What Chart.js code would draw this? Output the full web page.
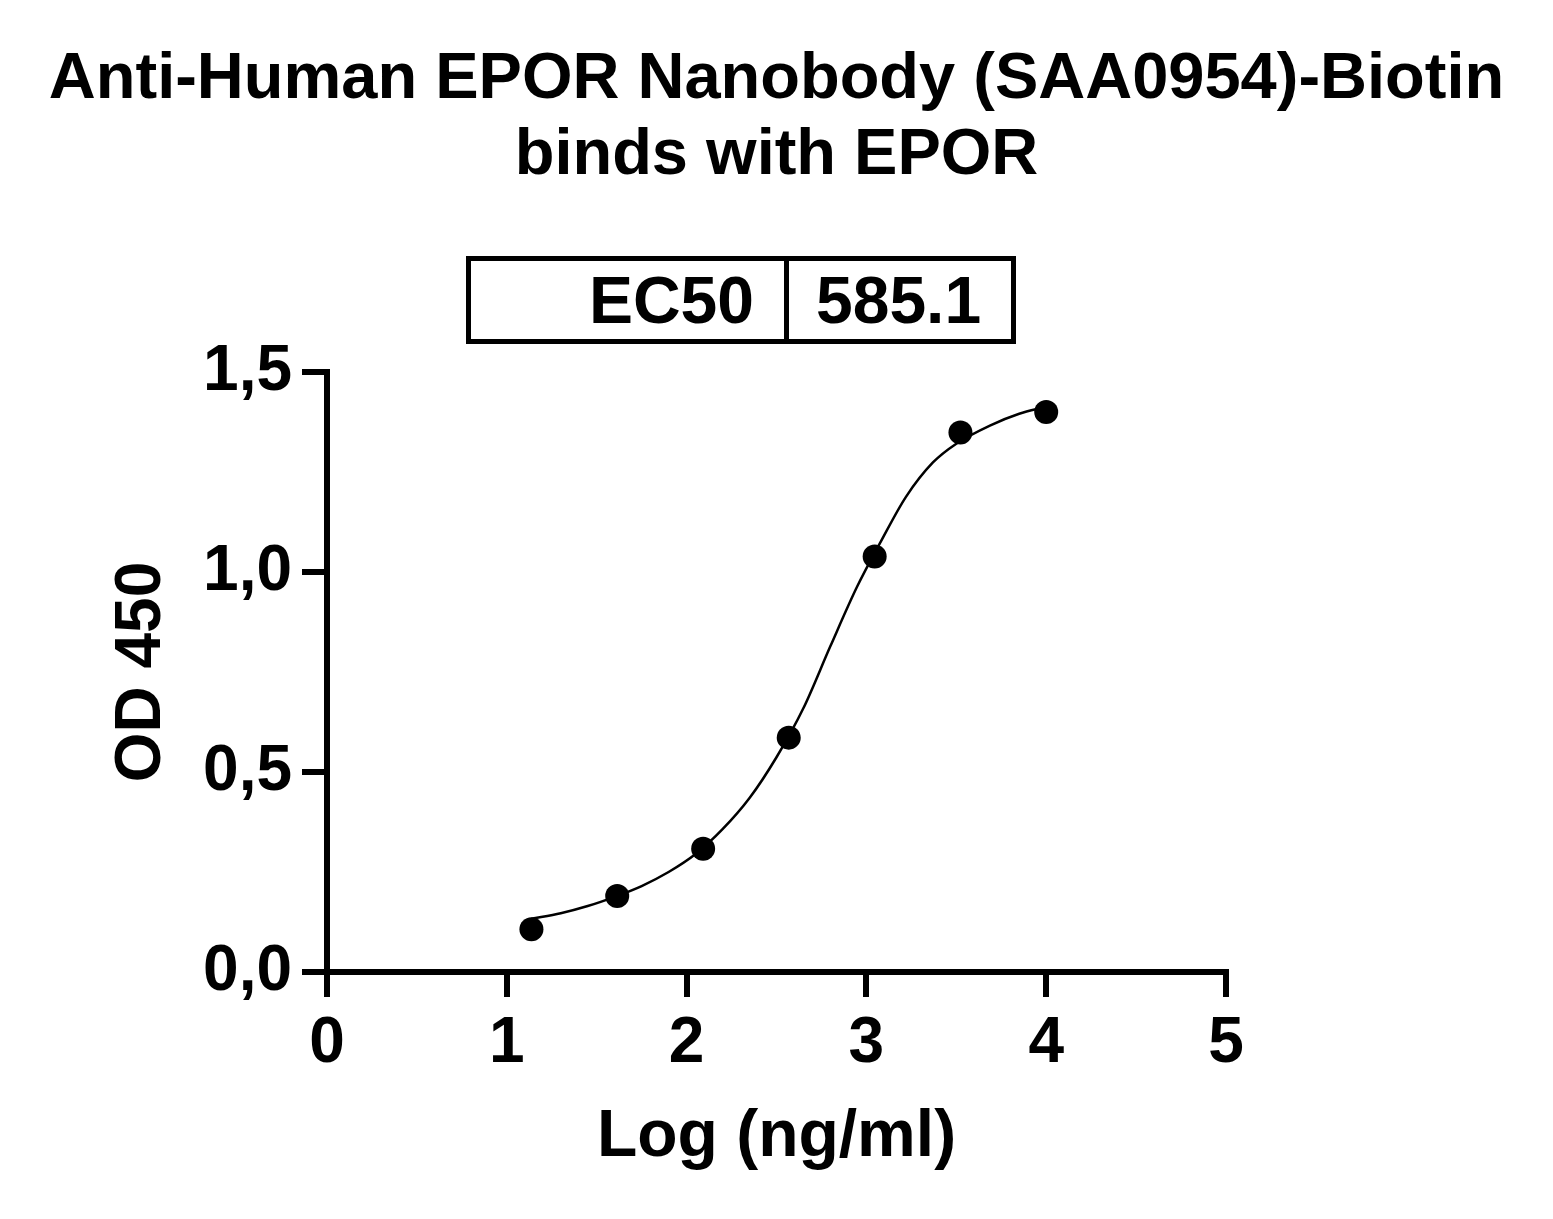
<!DOCTYPE html>
<html>
<head>
<meta charset="utf-8">
<script src="https://cdn.jsdelivr.net/npm/chart.js@4.4.1/dist/chart.umd.min.js"></script>
<style>
  html, body { margin: 0; padding: 0; background: #ffffff; }
  #wrap { position: relative; width: 1553px; height: 1219px; overflow: hidden; }
  #c { position: absolute; left: 0; top: 0; }
  #ec50 {
    position: absolute; left: 466px; top: 256px; width: 550px; height: 88px;
    box-sizing: border-box; border: 5px solid #000; display: flex;
    font-family: "Liberation Sans", Arial, sans-serif; font-weight: bold; font-size: 66px; color: #000;
  }
  #ec50 .k { width: 318px; box-sizing: border-box; border-right: 5px solid #000; text-align: right; padding-right: 30px; line-height: 78px; }
  #ec50 .v { flex: 1; box-sizing: border-box; padding-left: 27px; line-height: 78px; }
</style>
</head>
<body>
<div id="wrap">
  <canvas id="c" width="1553" height="1219"></canvas>
  <div id="ec50"><div class="k">EC50</div><div class="v">585.1</div></div>
</div>
<script>
// ---- data ----
const titleLines = ["Anti-Human EPOR Nanobody (SAA0954)-Biotin", "binds with EPOR"];
const xAxisTitle = "Log (ng/ml)";
const yAxisTitle = "OD 450";
const xTickLabels = ["0", "1", "2", "3", "4", "5"];
const yTickLabels = ["0,0", "0,5", "1,0", "1,5"];

// measured points (log concentration, OD450)
const pointX = [1.137, 1.614, 2.092, 2.568, 3.046, 3.523, 4.000];
const pointY = [0.107, 0.190, 0.308, 0.586, 1.039, 1.349, 1.400];

// fitted curve
const curveX = [1.137, 1.30, 1.45, 1.60, 1.75, 1.90, 2.05, 2.20, 2.35, 2.50, 2.65, 2.80, 2.95, 3.08, 3.22, 3.37, 3.50, 3.69, 3.85, 3.997];
const curveY = [0.133, 0.147, 0.165, 0.188, 0.215, 0.250, 0.295, 0.357, 0.435, 0.537, 0.660, 0.815, 0.965, 1.076, 1.188, 1.274, 1.321, 1.367, 1.396, 1.413];

Chart.defaults.font.family = '"Liberation Sans", Arial, sans-serif';
Chart.defaults.color = '#000';

const pts = pointX.map((x, i) => ({ x: x, y: pointY[i] }));
const crv = curveX.map((x, i) => ({ x: x, y: curveY[i] }));

new Chart(document.getElementById('c'), {
  type: 'scatter',
  data: {
    datasets: [
      {
        type: 'scatter', data: pts, order: 0,
        pointRadius: 12, pointHoverRadius: 12,
        backgroundColor: '#000', borderColor: '#000', borderWidth: 0
      },
      {
        type: 'line', data: crv, order: 1,
        borderColor: '#000', borderWidth: 2.5, pointRadius: 0,
        fill: false, cubicInterpolationMode: 'monotone', showLine: true
      }
    ]
  },
  options: {
    responsive: false,
    devicePixelRatio: 1,
    animation: false,
    layout: { padding: 0 },
    plugins: {
      legend: { display: false },
      tooltip: { enabled: false },
      title: {
        display: true,
        text: titleLines,
        color: '#000',
        font: { size: 65, weight: 'bold', lineHeight: 1.17 },
        padding: { top: 42, bottom: 178 }
      }
    },
    scales: {
      x: {
        type: 'linear', position: 'bottom', min: 0, max: 5,
        afterFit: (s) => { s.height = 247; },
        border: { display: true, color: '#000', width: 6 },
        grid: { display: true, drawOnChartArea: false, drawTicks: true, tickLength: 25, color: '#000', lineWidth: 6 },
        ticks: {
          stepSize: 1, padding: 9, color: '#000',
          font: { size: 64, weight: 'bold' },
          callback: (v, i) => xTickLabels[i]
        },
        title: {
          display: true, text: xAxisTitle, color: '#000',
          font: { size: 66, weight: 'bold' },
          padding: { top: 0, bottom: 42 }
        }
      },
      y: {
        type: 'linear', position: 'left', min: 0, max: 1.5,
        afterFit: (s) => { s.width = 327; },
        border: { display: true, color: '#000', width: 6 },
        grid: { display: true, drawOnChartArea: false, drawTicks: true, tickLength: 25, color: '#000', lineWidth: 6 },
        ticks: {
          stepSize: 0.5, padding: 10, color: '#000',
          font: { size: 64, weight: 'bold' },
          callback: (v, i) => yTickLabels[i]
        },
        title: {
          display: true, text: yAxisTitle, color: '#000',
          font: { size: 64, weight: 'bold' },
          padding: { top: 104, bottom: 0 }
        }
      },
      yr: {
        type: 'linear', position: 'right', display: true,
        afterFit: (s) => { s.width = 327; },
        border: { display: false },
        grid: { display: false },
        ticks: { display: false }
      }
    }
  }
});
</script>
</body>
</html>
